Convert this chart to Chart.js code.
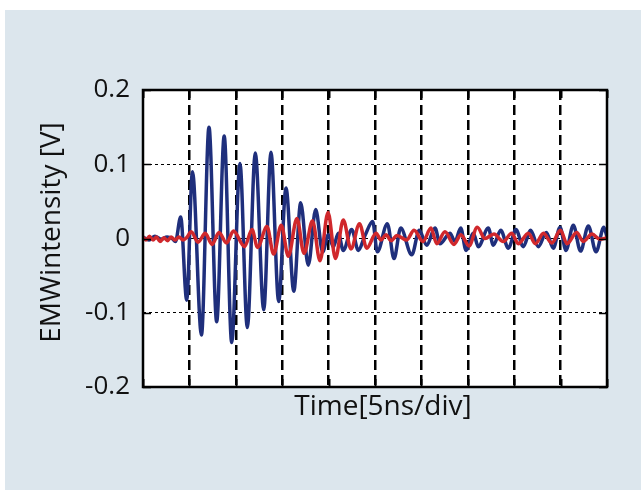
<!DOCTYPE html>
<html><head><meta charset="utf-8">
<script src="https://cdn.jsdelivr.net/npm/chart.js@4/dist/chart.umd.min.js"></script>
<style>html,body{margin:0;padding:0;background:#fff;}</style>
</head><body>
<canvas id="c" width="641" height="490"></canvas>
<script>
// Time axis in ns (5 ns per division, 10 divisions)
const xTitle = 'Time[5ns/div]';
const yTitle = 'EMWintensity [V]';
const yTickValues = [0.2, 0.1, 0, -0.1, -0.2];

const blueTime = [0, 0.65, 1.29, 1.94, 2.59, 3.13, 3.50, 4.06, 4.71, 5.33, 6.30, 7.11, 7.94, 8.75, 9.56, 10.45, 11.24, 12.10, 13.01, 13.79, 14.62, 15.41, 16.25, 16.99, 17.81, 18.61, 19.36, 19.97, 20.51, 21.05, 21.58, 22.49, 23.20, 23.92, 24.75, 25.25, 26.33, 27.05, 27.77, 28.96, 29.77, 30.57, 31.47, 32.00, 33.08, 33.62, 34.24, 34.81, 35.60, 36.13, 37.21, 37.75, 38.55, 39.37, 40.19, 40.98, 41.76, 42.60, 43.46, 44.21, 44.94, 45.58, 46.37, 47.15, 47.99, 48.82, 49.66, 50.00];
const blueValue = [0.002, -0.002, 0.003, -0.001, 0.002, 0.000, -0.004, 0.029, -0.083, 0.090, -0.130, 0.150, -0.112, 0.138, -0.140, 0.101, -0.120, 0.115, -0.096, 0.116, -0.085, 0.068, -0.071, 0.048, -0.036, 0.039, -0.018, 0.005, -0.011, 0.007, -0.016, 0.012, -0.016, 0.004, 0.023, -0.018, 0.020, -0.027, 0.014, -0.022, 0.011, -0.009, 0.014, -0.007, 0.007, -0.004, 0.014, -0.016, 0.007, -0.011, 0.014, -0.009, 0.011, -0.013, 0.012, -0.011, 0.011, -0.011, 0.008, -0.013, 0.015, -0.016, 0.018, -0.017, 0.017, -0.018, 0.015, 0.002];

const redTime = [0, 0.32, 0.70, 1.08, 1.45, 1.83, 2.26, 2.64, 3.02, 3.45, 3.88, 4.31, 4.69, 5.20, 5.93, 6.71, 7.44, 8.19, 9.00, 9.75, 10.94, 11.75, 12.34, 13.36, 14.08, 14.90, 15.66, 16.59, 17.35, 18.27, 19.07, 19.94, 20.74, 21.58, 22.41, 23.33, 24.11, 25.11, 25.65, 26.19, 26.73, 27.37, 28.40, 29.21, 30.17, 31.03, 31.65, 32.54, 33.51, 34.26, 35.13, 36.02, 36.85, 37.82, 38.82, 39.73, 40.44, 41.52, 42.29, 43.15, 44.04, 44.99, 45.69, 46.73, 47.44, 48.38, 49.24, 50.00];
const redValue = [0.002, -0.002, 0.003, -0.002, 0.002, -0.004, 0.001, -0.003, 0.002, -0.002, 0.002, -0.002, 0.001, 0.009, -0.005, 0.007, -0.008, 0.008, -0.006, 0.010, -0.011, 0.012, -0.012, 0.016, -0.021, 0.018, -0.024, 0.027, -0.020, 0.024, -0.030, 0.035, -0.027, 0.025, -0.014, 0.020, -0.013, 0.007, -0.002, 0.005, -0.003, 0.004, -0.002, 0.011, -0.004, 0.014, -0.007, 0.009, -0.008, 0.005, -0.010, 0.015, 0.000, 0.006, -0.004, 0.007, -0.007, 0.007, -0.007, 0.007, -0.006, 0.011, -0.007, 0.008, -0.004, 0.006, -0.001, 0.001];

const BG = 'rgb(220,230,237)';
const FONT = "'Open Sans', 'Noto Sans', sans-serif";

const frame = {
  id: 'frame',
  beforeDraw(chart) {
    const c = chart.ctx, a = chart.chartArea;
    c.save();
    c.fillStyle = '#fff';
    c.fillRect(0, 0, chart.width, chart.height);
    c.fillStyle = BG;
    c.fillRect(5, 10, chart.width - 5, chart.height - 10);
    c.fillStyle = '#fff';
    c.fillRect(a.left, a.top, a.right - a.left, a.bottom - a.top);
    c.restore();
  },
  afterDraw(chart) {
    const c = chart.ctx, a = chart.chartArea;
    const xs = chart.scales.x, ys = chart.scales.y;
    c.save();
    c.strokeStyle = '#000';
    c.lineWidth = 2;
    xs.ticks.forEach(t => {
      const px = Math.round(xs.getPixelForValue(t.value)) + 0.5;
      c.beginPath();
      c.moveTo(px, a.top); c.lineTo(px, a.top + 8);
      c.moveTo(px, a.bottom); c.lineTo(px, a.bottom - 8);
      c.stroke();
    });
    c.lineWidth = 1.5;
    ys.ticks.forEach(t => {
      const py = Math.round(ys.getPixelForValue(t.value)) + 0.5;
      c.beginPath();
      c.moveTo(a.left, py); c.lineTo(a.left + 8, py);
      c.moveTo(a.right, py); c.lineTo(a.right - 8, py);
      c.stroke();
    });
    c.lineWidth = 2.5;
    c.strokeRect(a.left, a.top, a.right - a.left, a.bottom - a.top);
    // axis titles
    c.fillStyle = '#111';
    c.font = "28px " + FONT;
    c.textAlign = 'center';
    c.textBaseline = 'middle';
    c.fillText(xTitle, (a.left + a.right) / 2 + 8, a.bottom + 20);
    c.translate(52, (a.top + a.bottom) / 2 - 6);
    c.rotate(-Math.PI / 2);
    c.fillText(yTitle, 0, 0);
    c.restore();
  }
};

new Chart(document.getElementById('c'), {
  type: 'line',
  data: {
    datasets: [
      { label: 'red', data: redTime.map((t, i) => ({x: t, y: redValue[i]})),
        borderColor: '#d0282c', borderWidth: 3.5, pointRadius: 0, cubicInterpolationMode: 'monotone', fill: false },
      { label: 'blue', data: blueTime.map((t, i) => ({x: t, y: blueValue[i]})),
        borderColor: '#1f2f7c', borderWidth: 3.5, pointRadius: 0, cubicInterpolationMode: 'monotone', fill: false }
    ]
  },
  options: {
    responsive: false,
    animation: false,
    devicePixelRatio: 1,
    layout: { padding: { top: 90, right: 34, left: 0, bottom: 0 } },
    plugins: { legend: { display: false }, tooltip: { enabled: false } },
    scales: {
      x: {
        type: 'linear', min: 0, max: 50,
        ticks: { display: false, stepSize: 5 },
        grid: {
          drawTicks: false, lineWidth: 2.5,
          color: ctx => (ctx.tick && (ctx.tick.value === 0 || ctx.tick.value === 50)) ? 'rgba(0,0,0,0)' : '#000'
        },
        border: { display: false, dash: [10, 5] },
        title: { display: false },
        afterFit: s => { s.height = 103; }
      },
      y: {
        type: 'linear', min: -0.2, max: 0.2,
        afterBuildTicks: s => { s.ticks = yTickValues.map(v => ({ value: v })); },
        ticks: { padding: 13, color: '#111', font: { family: FONT, size: 26 } },
        grid: {
          drawTicks: false, lineWidth: 1,
          color: ctx => (ctx.tick && Math.abs(ctx.tick.value) > 0.15) ? 'rgba(0,0,0,0)' : '#000'
        },
        border: { display: false, dash: [3, 3] },
        title: { display: false },
        afterFit: s => { s.width = 143; }
      }
    }
  },
  plugins: [frame]
});
</script>
</body></html>
